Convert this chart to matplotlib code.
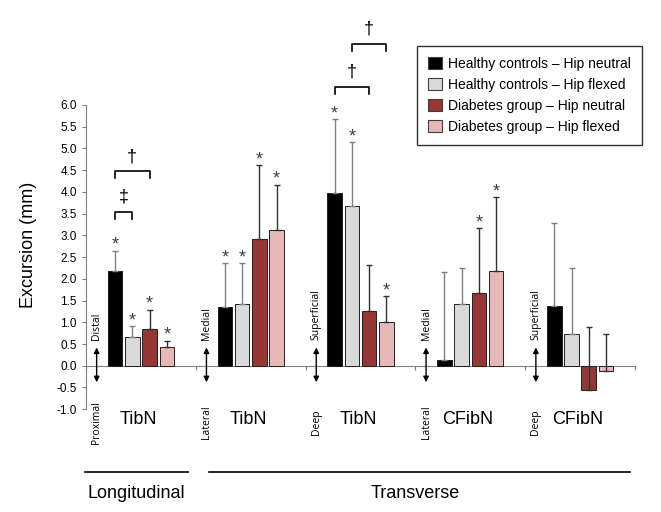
import numpy as np
import matplotlib
matplotlib.use("Agg")
import matplotlib.pyplot as plt
from matplotlib.patches import Patch

# Dati (mm)
nerves = ["TibN", "TibN", "TibN", "CFibN", "CFibN"]
upper_dir = ["Distal", "Medial", "Superficial", "Medial", "Superficial"]
lower_dir = ["Proximal", "Lateral", "Deep", "Lateral", "Deep"]

series_names = ["Healthy controls \u2013 Hip neutral", "Healthy controls \u2013 Hip flexed",
                "Diabetes group \u2013 Hip neutral", "Diabetes group \u2013 Hip flexed"]
healthy_neutral = [2.17, 1.35, 3.97, 0.14, 1.38]
healthy_flexed = [0.66, 1.43, 3.67, 1.43, 0.73]
diabetes_neutral = [0.84, 2.92, 1.27, 1.68, -0.55]
diabetes_flexed = [0.43, 3.12, 1.00, 2.17, -0.12]

healthy_neutral_err = [0.48, 1.01, 1.71, 2.02, 1.90]
healthy_flexed_err = [0.25, 0.93, 1.47, 0.83, 1.53]
diabetes_neutral_err = [0.45, 1.69, 1.05, 1.48, 1.45]
diabetes_flexed_err = [0.15, 1.05, 0.60, 1.71, 0.84]

healthy_neutral_sig = [1, 1, 1, 0, 0]
healthy_flexed_sig = [1, 1, 1, 0, 0]
diabetes_neutral_sig = [1, 1, 0, 1, 0]
diabetes_flexed_sig = [1, 1, 1, 1, 0]

# (gruppo, serie a, serie b, altezza, simbolo)
brackets = [(0, 0, 1, 3.54, "\u2021"), (0, 0, 2, 4.47, "\u2020"),
            (2, 0, 2, 6.42, "\u2020"), (2, 1, 3, 7.40, "\u2020")]

values = [healthy_neutral, healthy_flexed, diabetes_neutral, diabetes_flexed]
errors = [healthy_neutral_err, healthy_flexed_err, diabetes_neutral_err, diabetes_flexed_err]
sigs = [healthy_neutral_sig, healthy_flexed_sig, diabetes_neutral_sig, diabetes_flexed_sig]
colors = ["#000000", "#d9d9d9", "#953735", "#e6b9b8"]
err_colors = ["#808080", "#808080", "#303030", "#303030"]

plt.rcParams["font.family"] = ["Liberation Sans", "DejaVu Sans"]

fig = plt.figure(figsize=(6.61, 5.12), dpi=100)
ax = fig.add_axes([0.1301, 0.2008, 0.8306, 0.7639])

n = len(nerves)
centers = np.arange(n) + 0.5
pitch = 0.157
width = 0.132

for k in range(4):
    x = centers + (k - 1.5) * pitch
    ax.bar(x, values[k], width, color=colors[k], edgecolor="#202020", linewidth=0.7,
           yerr=[np.zeros(n), errors[k]], capsize=2.5,
           error_kw=dict(ecolor=err_colors[k], elinewidth=1.0, capthick=1.0),
           label=series_names[k], zorder=3)
    for i in range(n):
        if sigs[k][i]:
            ax.text(x[i], values[k][i] + errors[k][i] + 0.12, "*", ha="center", va="center",
                    fontsize=13, color="#404040")

# Parentesi di significatività
for g, a, b, y, sym in brackets:
    xa = centers[g] + (a - 1.5) * pitch
    xb = centers[g] + (b - 1.5) * pitch
    ax.plot([xa, xa, xb, xb], [y - 0.16, y, y, y - 0.16], color="black", lw=1.2, clip_on=False)
    ax.text((xa + xb) / 2, y + 0.34, sym, ha="center", va="center", fontsize=13)

# Frecce e direzioni
for i in range(n):
    xd = i + 0.097
    ax.annotate("", xy=(xd, 0.42), xytext=(xd, -0.38),
                arrowprops=dict(arrowstyle="<|-|>", color="black", lw=1.0,
                                mutation_scale=8, shrinkA=0, shrinkB=0))
    ax.text(xd, 0.6, upper_dir[i], rotation=90, ha="center", va="bottom",
            fontsize=7.5, family="Open Sans")
    ax.text(xd, -1.3, lower_dir[i], rotation=90, ha="center", va="center",
            fontsize=7.5, family="Open Sans")
    ax.text(centers[i] - 0.02, -1.23, nerves[i], ha="center", va="center", fontsize=13)

# Linee di raggruppamento in basso
ax.plot([-0.01, 0.93], [-2.45, -2.45], color="black", lw=1.2, clip_on=False)
ax.plot([1.12, 4.95], [-2.45, -2.45], color="black", lw=1.2, clip_on=False)
ax.text(0.455, -2.94, "Longitudinal", ha="center", va="center", fontsize=13)
ax.text(3.0, -2.94, "Transverse", ha="center", va="center", fontsize=13)

ax.set_xlim(0, 5)
ax.set_ylim(-1.0, 8.0)
ax.set_yticks(np.arange(-1.0, 6.01, 0.5))
ax.set_yticklabels([f"{v:.1f}" for v in np.arange(-1.0, 6.01, 0.5)], fontsize=8.5)
ax.set_xticks(np.arange(0, 6))
ax.set_xticklabels([])
ax.tick_params(axis="both", color="#808080", length=3, width=0.8)
ax.spines["top"].set_visible(False)
ax.spines["right"].set_visible(False)
ax.spines["left"].set_bounds(-1.0, 6.0)
ax.spines["left"].set_color("#808080")
ax.spines["bottom"].set_position(("data", 0))
ax.spines["bottom"].set_color("#808080")

ax.set_ylabel("Excursion (mm)", fontsize=13)
ax.yaxis.set_label_coords(-0.09, 0.42)

handles = [Patch(facecolor=colors[k], edgecolor="#404040", linewidth=0.8) for k in range(4)]
fig.legend(handles, series_names, loc="upper right", bbox_to_anchor=(0.971, 0.911),
           fontsize=10, frameon=True, fancybox=False, edgecolor="black",
           handlelength=1.05, handleheight=1.0, handletextpad=0.4,
           labelspacing=0.5, borderpad=0.8, borderaxespad=0).get_frame().set_linewidth(1.0)

fig.savefig("out.png", dpi=100)
